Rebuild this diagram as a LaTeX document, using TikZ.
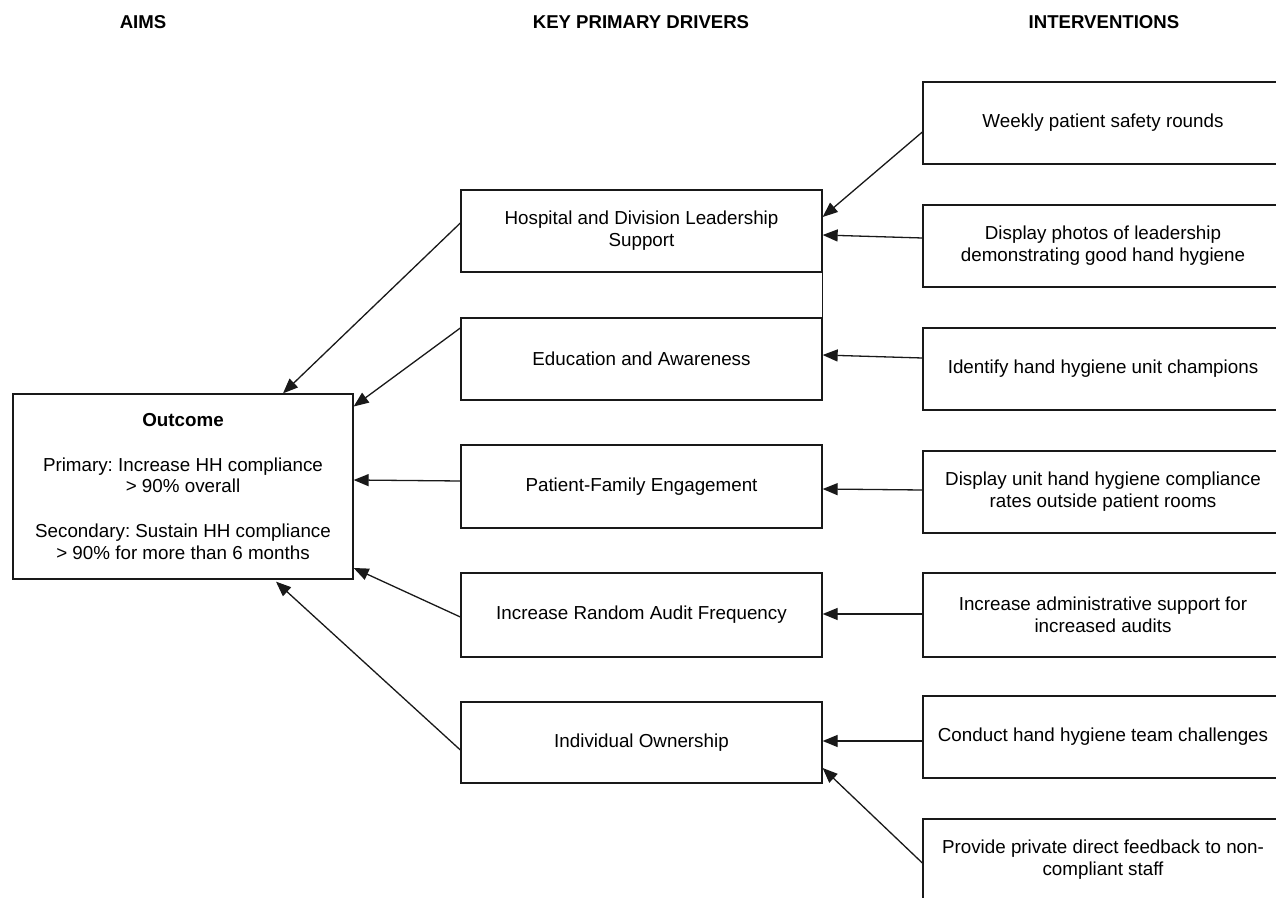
\documentclass[tikz,border=0pt]{standalone}
\usepackage{fontspec}
\setmainfont{Liberation Sans}
\usetikzlibrary{arrows.meta,calc}
\frenchspacing
\begin{document}
\begin{tikzpicture}[x=0.5pt,y=-0.5pt,
  box/.style={draw=black!90,line width=0.65pt,rectangle,inner sep=0pt,align=center,
    font=\fontsize{9.4}{10.9}\selectfont},
  drv/.style={box,minimum width=180.5pt,minimum height=41pt},
  itv/.style={box,minimum width=180pt,minimum height=41pt},
  arr/.style={draw=black!90,line width=0.65pt,-{Triangle[length=7.5pt,width=6pt]}},
  link/.style={draw=black!90,line width=0.65pt},
  head/.style={inner sep=0pt,font=\fontsize{9.3}{11}\selectfont\bfseries}]
\clip (0,0) rectangle (1276,898);
\fill[white] (0,0) rectangle (1276,898);
% headers
\node[head] (haims) at (143,22) {AIMS};
\node[head] (hkey) at (641,22) {KEY PRIMARY DRIVERS};
\node[head] (hint) at (1104,22) {INTERVENTIONS};
% aim
\node[box,minimum width=170pt,minimum height=92.5pt] (outcome) at (183,486.5)
  {\textbf{Outcome}\\[11.5pt]Primary: Increase HH compliance\\> 90\% overall\\[11.5pt]Secondary: Sustain HH compliance\\> 90\% for more than 6 months};
% drivers
\node[drv] (hosp) at (641.5,231) {Hospital and Division Leadership\\Support};
\node[drv] (edu) at (641.5,359) {Education and Awareness};
\node[drv,minimum height=41.5pt] (pfe) at (641.5,486.5) {Patient-Family Engagement};
\node[drv,minimum height=42pt] (rand) at (641.5,615) {Increase Random Audit Frequency};
\node[drv,minimum height=40.5pt] (indiv) at (641.5,742.5) {Individual Ownership};
% interventions
\node[itv] (weekly) at (1103,123) {Weekly patient safety rounds};
\node[itv] (photos) at (1103,246) {Display photos of leadership\\demonstrating good hand hygiene};
\node[itv] (identify) at (1103,369) {Identify hand hygiene unit champions};
\node[itv] (unit) at (1103,492) {Display unit hand hygiene compliance\\rates outside patient rooms};
\node[itv,minimum height=42pt] (admin) at (1103,615) {Increase administrative support for\\increased audits};
\node[itv] (conduct) at (1103,737) {Conduct hand hygiene team challenges};
\node[itv] (provide) at (1103,860) {Provide private direct feedback to non-\\compliant staff};
% link between leadership and education boxes
\draw[link] (hosp.south east) -- (edu.north east);
% interventions -> drivers
\draw[arr] ($(weekly.west)+(0,9)$) -- ($(hosp.east)+(0,-14)$);
\draw[arr] ($(photos.west)+(0,-8)$) -- ($(hosp.east)+(0,4)$);
\draw[arr] ($(identify.west)+(0,-11)$) -- ($(edu.east)+(0,-4)$);
\draw[arr] ($(unit.west)+(0,-2)$) -- ($(pfe.east)+(0,2.5)$);
\draw[arr] ($(admin.west)+(0,-1)$) -- ($(rand.east)+(0,-1)$);
\draw[arr] ($(conduct.west)+(0,4)$) -- ($(indiv.east)+(0,-1.5)$);
\draw[arr] ($(provide.west)+(0,3)$) -- ($(indiv.east)+(0,25.5)$);
% drivers -> outcome
\draw[arr] ($(hosp.west)+(0,-8)$) -- ($(outcome.north)+(100,0)$);
\draw[arr] ($(edu.west)+(0,-31)$) -- ($(outcome.east)+(0,-80)$);
\draw[arr] ($(pfe.west)+(0,-5.5)$) -- ($(outcome.east)+(0,-6.5)$);
\draw[arr] ($(rand.west)+(0,2)$) -- ($(outcome.east)+(0,81.5)$);
\draw[arr] ($(indiv.west)+(0,7.5)$) -- ($(outcome.south)+(93,2)$);
\end{tikzpicture}
\end{document}
